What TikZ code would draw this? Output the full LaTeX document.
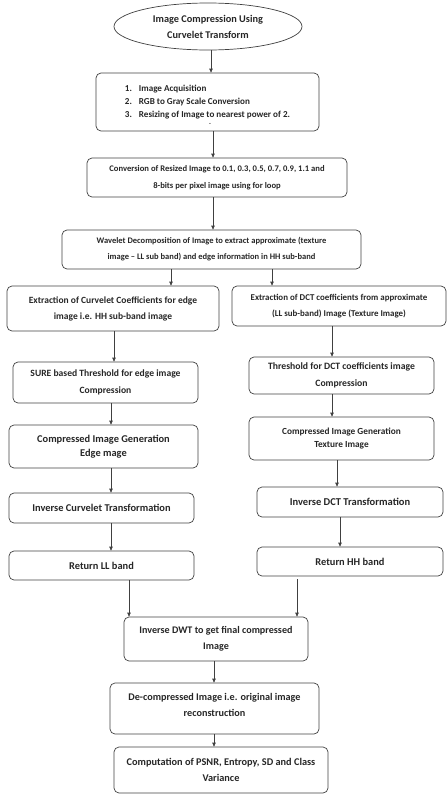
\documentclass[tikz,border=0pt]{standalone}
\usepackage{fontspec}
\setmainfont{Carlito}
\usetikzlibrary{arrows.meta,shapes.geometric}
\tikzset{
  box/.style={draw=black!75, line width=0.7pt, rounded corners=5pt, inner sep=0pt, align=center,
    font=\bfseries\fontsize{8.5}{16}\selectfont, text=black!85},
  txt/.style={inner sep=0pt, align=center, text=black!85},
  fs/.style 2 args={font=\bfseries\fontsize{#1}{#2}\selectfont},
  oval/.style={draw=black!75, line width=0.7pt, ellipse, inner sep=0pt, align=center,
    font=\bfseries\fontsize{10.3}{16}\selectfont, text=black!85},
  arr/.style={draw=black!75, line width=0.7pt, -{Triangle[length=4pt,width=3.5pt]}}
}
\begin{document}
\begin{tikzpicture}[x=1pt,y=-1pt]
\useasboundingbox (0,0) rectangle (447,795);
\node[oval, minimum width=188, minimum height=47] (ell) at (208,26.5) {Image Compression Using\\Curvelet Transform};
\node[box, minimum width=223, minimum height=58, fs={9.1}{13}] (b1) at (207.5,102) {\raisebox{3pt}{\begin{tabular}{@{}l@{\hspace{7pt}}l@{}}1. & Image Acquisition\\ 2. & RGB to Gray Scale Conversion\\ 3. & Resizing of Image to nearest power of 2.\end{tabular}}};
\node[txt, fs={6}{7}] (dot) at (210,124.5) {-};
\node[box, minimum width=260, minimum height=39, fs={8.6}{16.5}] (b2) at (217,177.5) {Conversion of Resized Image to 0.1, 0.3, 0.5, 0.7, 0.9, 1.1 and\\8-bits per pixel image using for loop};
\node[box, minimum width=299, minimum height=39, fs={8.5}{16}] (b3) at (211.5,249.5) {Wavelet Decomposition of Image to extract approximate (texture\\image – LL sub band) and edge information in HH sub-band};
\node[box, minimum width=212, minimum height=45, fs={9.5}{16}] (b4L) at (113,308.5) {Extraction of Curvelet Coefficients for edge\\image i.e. HH sub-band image};
\node[box, minimum width=214, minimum height=40, fs={8.9}{16}] (b4R) at (339,306) {Extraction of DCT coefficients from approximate\\(LL sub-band) Image (Texture Image)};
\node[box, minimum width=185, minimum height=41, fs={9.6}{16.5}] (b5L) at (105.5,382.5) {SURE based Threshold for edge image\\Compression};
\node[box, minimum width=185, minimum height=37, fs={9.7}{16.5}] (b5R) at (341.5,375.5) {Threshold for DCT coefficients image\\Compression};
\node[box, minimum width=189, minimum height=43, fs={10.4}{14.3}] (b6L) at (103.5,446.5) {Compressed Image Generation\\Edge mage};
\node[box, minimum width=185, minimum height=43, fs={9.3}{13.7}] (b6R) at (341.5,438.5) {Compressed Image Generation\\Texture Image};
\node[box, minimum width=185, minimum height=30, fs={10.4}{16}] (b7L) at (101.5,508) {Inverse Curvelet Transformation};
\node[box, minimum width=186, minimum height=30, fs={10.5}{16}] (b7R) at (350,502) {Inverse DCT Transformation};
\node[box, minimum width=185, minimum height=29, fs={10.4}{16}] (b8L) at (101.5,565.5) {Return LL band};
\node[box, minimum width=186, minimum height=29, fs={10.4}{16}] (b8R) at (350,561.5) {Return HH band};
\node[box, minimum width=184, minimum height=44, fs={10.1}{16}] (b9) at (216,639) {Inverse DWT to get final compressed\\Image};
\node[box, minimum width=209, minimum height=51] (b10) at (214.5,708.5) {};
\node[txt, fs={10.2}{16}] (t10) at ([yshift=4pt]b10.center) {De-compressed Image i.e. original image\\reconstruction};
\node[box, minimum width=214, minimum height=46, fs={10.3}{15.3}] (b11) at (221,770) {Computation of PSNR, Entropy, SD and Class\\Variance};
\draw[arr] (ell.south -| 211,0) -- (b1.north -| 211,0);
\draw[arr] (b1.south -| 213,0) -- (b2.north -| 213,0);
\draw[arr] (b2.south -| 213,0) -- (b3.north -| 213,0);
\draw[arr] (b3.south -| 171,0) -- (b4L.north -| 171,0);
\draw[arr] (b3.south -| 272,0) -- (b4R.north -| 272,0);
\draw[arr] (b4L.south -| 114,0) -- (b5L.north -| 114,0);
\draw[arr] (b4R.south -| 332,0) -- (b5R.north -| 332,0);
\draw[arr] (b5L.south -| 111,0) -- (b6L.north -| 111,0);
\draw[arr] (b5R.south -| 332,0) -- (b6R.north -| 332,0);
\draw[arr] (b6L.south -| 111,0) -- (b7L.north -| 111,0);
\draw[arr] (b6R.south -| 337,0) -- (b7R.north -| 337,0);
\draw[arr] (b7L.south -| 111,0) -- (b8L.north -| 111,0);
\draw[arr] (b7R.south -| 340,0) -- (b8R.north -| 340,0);
\draw[arr] (b8L.south -| 129,0) -- (b9.north -| 129,0);
\draw[arr, shorten <=3pt] (b8R.south -| 297,0) -- (b9.north -| 297,0);
\draw[arr] (b9.south -| 214,0) -- (b10.north -| 214,0);
\draw[arr] (b10.south -| 214,0) -- (b11.north -| 214,0);
\end{tikzpicture}
\end{document}
